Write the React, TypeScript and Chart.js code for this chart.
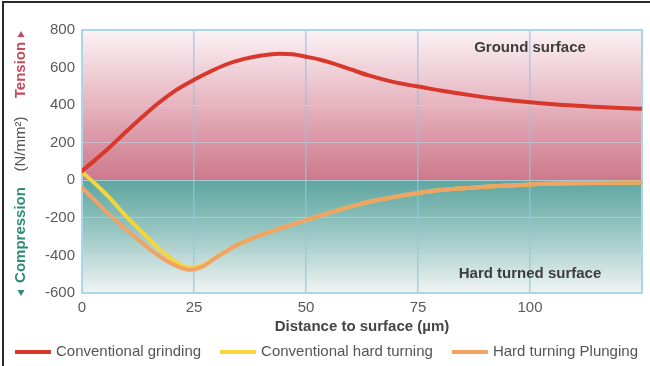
import React, { useEffect, useRef } from 'react';
import { Chart, registerables } from 'chart.js';

Chart.register(...registerables);

// ---- data ----
const GRIND_X = [0, 3, 6, 10, 13.5, 17, 21, 25, 29, 32, 36, 40, 44, 47, 50, 53, 56, 60, 64, 68, 72, 76, 80, 87, 93, 100, 106, 113, 119, 125];
const GRIND_Y = [50, 110, 172, 262, 338, 410, 480, 535, 583, 615, 645, 664, 674, 671, 658, 643, 622, 590, 558, 532, 512, 495, 478, 452, 433, 415, 403, 393, 386, 381];

const TURN_X = [0, 3, 6, 10, 14, 18, 21, 24, 27, 30, 35, 40, 45, 50, 55, 60, 65, 70, 75, 80, 90, 100, 110, 125];
const TURN_Y = [45, -20, -90, -195, -290, -380, -435, -465, -452, -408, -340, -290, -250, -212, -175, -140, -110, -88, -68, -52, -35, -22, -16, -12];

const PLUNGE_X = [0, 3, 6, 10, 14, 18, 21, 24, 27, 30, 35, 40, 45, 50, 55, 60, 65, 70, 75, 80, 90, 100, 110, 125];
const PLUNGE_Y = [-40, -110, -180, -265, -345, -415, -455, -476, -458, -410, -340, -290, -250, -212, -175, -140, -110, -88, -68, -52, -35, -22, -16, -12];

const SERIES_LABELS = ['Conventional grinding', 'Conventional hard turning', 'Hard turning Plunging'];
const SERIES_COLORS = ['#d8372b', '#f4d53e', '#efa364'];

const X_TICKS = [0, 25, 50, 75, 100];
const Y_TICKS = [-600, -400, -200, 0, 200, 400, 600, 800];
const X_MIN = 0, X_MAX = 125, Y_MIN = -600, Y_MAX = 800;

const X_TITLE = 'Distance to surface (µm)';
const Y_TITLE_COMP = 'Compression';
const Y_TITLE_UNIT = '(N/mm²)';
const Y_TITLE_TENS = 'Tension';
const NOTE_TOP = 'Ground surface';
const NOTE_TOP_AT = [100, 705];
const NOTE_BOTTOM = 'Hard turned surface';
const NOTE_BOTTOM_AT = [100, -497];

const FONT = "'Liberation Sans', Arial, sans-serif";

const toPts = (xs: number[], ys: number[]) => xs.map((x, i) => ({ x, y: ys[i] }));

const decorPlugin = {
  id: 'decor',
  beforeDraw(chart: any) {
    const { ctx, chartArea } = chart;
    const { left, right, top, bottom } = chartArea;
    const y0 = chart.scales.y.getPixelForValue(0);
    ctx.save();
    ctx.fillStyle = '#ffffff';
    ctx.fillRect(0, 0, chart.width, chart.height);
    const g1 = ctx.createLinearGradient(0, top, 0, y0);
    g1.addColorStop(0, '#fbf2f4');
    g1.addColorStop(0.3, '#efcdd5');
    g1.addColorStop(0.7, '#dc9aa9');
    g1.addColorStop(1, '#cd798c');
    ctx.fillStyle = g1;
    ctx.fillRect(left, top, right - left, y0 - top);
    const g2 = ctx.createLinearGradient(0, y0, 0, bottom);
    g2.addColorStop(0, '#5ea5a0');
    g2.addColorStop(0.45, '#98c6c2');
    g2.addColorStop(1, '#f0f4f2');
    ctx.fillStyle = g2;
    ctx.fillRect(left, y0, right - left, bottom - y0);
    ctx.restore();
  },
  beforeDatasetsDraw(chart: any) {
    const { ctx, chartArea } = chart;
    const { left, right, top, bottom } = chartArea;
    ctx.save();
    ctx.strokeStyle = '#a9d6ea';
    ctx.lineWidth = 2;
    ctx.strokeRect(left, top, right - left, bottom - top);
    ctx.restore();
  },
  afterDraw(chart: any) {
    const { ctx, chartArea } = chart;
    const { left, right } = chartArea;
    const xs = chart.scales.x, ys = chart.scales.y;
    ctx.save();
    // notes
    ctx.font = `bold 15px ${FONT}`;
    ctx.fillStyle = '#3d3d3d';
    ctx.textAlign = 'center';
    ctx.textBaseline = 'middle';
    ctx.fillText(NOTE_TOP, xs.getPixelForValue(NOTE_TOP_AT[0]), ys.getPixelForValue(NOTE_TOP_AT[1]));
    ctx.fillText(NOTE_BOTTOM, xs.getPixelForValue(NOTE_BOTTOM_AT[0]), ys.getPixelForValue(NOTE_BOTTOM_AT[1]));
    // x title
    ctx.fillStyle = '#444';
    ctx.fillText(X_TITLE, (left + right) / 2, 327);

    // y title (rotated)
    ctx.save();
    ctx.translate(21, 0);
    ctx.rotate(-Math.PI / 2);
    ctx.textBaseline = 'middle';
    ctx.textAlign = 'center';
    ctx.font = `bold 15px ${FONT}`;
    ctx.fillStyle = '#2f8c77';
    ctx.fillText(Y_TITLE_COMP, -235, 0);
    ctx.font = `15px ${FONT}`;
    ctx.fillStyle = '#555';
    ctx.fillText(Y_TITLE_UNIT, -144, 0);
    ctx.font = `bold 15px ${FONT}`;
    ctx.fillStyle = '#c44a5e';
    ctx.fillText(Y_TITLE_TENS, -70, 0);
    ctx.restore();
    // arrows
    ctx.fillStyle = '#c44a5e';
    ctx.beginPath();
    ctx.moveTo(21, 31); ctx.lineTo(24.5, 37); ctx.lineTo(17.5, 37); ctx.closePath(); ctx.fill();
    ctx.fillStyle = '#2f8c77';
    ctx.beginPath();
    ctx.moveTo(21, 296); ctx.lineTo(24.5, 290); ctx.lineTo(17.5, 290); ctx.closePath(); ctx.fill();

    // legend
    ctx.font = `15px ${FONT}`;
    ctx.textAlign = 'left';
    ctx.textBaseline = 'middle';
    let lx = 15;
    const ly = 352;
    SERIES_LABELS.forEach((lab, i) => {
      ctx.strokeStyle = SERIES_COLORS[i];
      ctx.lineWidth = 4;
      ctx.beginPath();
      ctx.moveTo(lx, ly);
      ctx.lineTo(lx + 36, ly);
      ctx.stroke();
      lx += 41;
      ctx.fillStyle = '#555';
      ctx.fillText(lab, lx, ly);
      lx += ctx.measureText(lab).width + 19;
    });

    // frame
    ctx.fillStyle = '#2b2b2b';
    ctx.fillRect(2, 1, 648, 2);
    ctx.fillRect(2, 1, 2, chart.height);
    ctx.restore();
  },
};

export default function App() {
  const ref = useRef<HTMLCanvasElement | null>(null);
  useEffect(() => {
    if (!ref.current) return;
    const chart = new Chart(ref.current, {
      type: 'line',
      data: {
        datasets: [
          { label: SERIES_LABELS[0], data: toPts(GRIND_X, GRIND_Y), borderColor: SERIES_COLORS[0], borderWidth: 4, order: 0 },
          { label: SERIES_LABELS[1], data: toPts(TURN_X, TURN_Y), borderColor: SERIES_COLORS[1], borderWidth: 4, order: 2 },
          { label: SERIES_LABELS[2], data: toPts(PLUNGE_X, PLUNGE_Y), borderColor: SERIES_COLORS[2], borderWidth: 4, order: 1 },
        ],
      },
      options: {
        animation: false,
        responsive: false,
        devicePixelRatio: 1,
        parsing: false,
        elements: {
          point: { radius: 0 },
          line: { cubicInterpolationMode: 'monotone', fill: false, borderCapStyle: 'round' },
        },
        layout: { padding: { left: 0, right: 8, top: 30, bottom: 0 } },
        plugins: { legend: { display: false }, tooltip: { enabled: false }, title: { display: false } },
        scales: {
          x: {
            type: 'linear',
            min: X_MIN,
            max: X_MAX,
            afterBuildTicks: (s: any) => { s.ticks = X_TICKS.map((v) => ({ value: v })); },
            afterFit: (s: any) => { s.height = 73; },
            grid: { color: 'rgba(140,200,228,0.75)', lineWidth: 1.5, drawTicks: false },
            border: { display: false },
            ticks: { padding: 6, color: '#5a5a5a', font: { family: FONT, size: 15 }, maxRotation: 0 },
          },
          y: {
            type: 'linear',
            min: Y_MIN,
            max: Y_MAX,
            afterBuildTicks: (s: any) => { s.ticks = Y_TICKS.map((v) => ({ value: v })); },
            afterFit: (s: any) => { s.width = 82; },
            grid: { color: 'rgba(190,220,238,0.55)', lineWidth: 1, drawTicks: false },
            border: { display: false },
            ticks: { padding: 7, color: '#5a5a5a', font: { family: FONT, size: 15 } },
          },
        },
      },
      plugins: [decorPlugin],
    } as any);
    return () => chart.destroy();
  }, []);
  return (
    <div style={{ position: 'absolute', left: 0, top: 0, width: 650, height: 366 }}>
      <canvas ref={ref} width={650} height={366} style={{ display: 'block' }} />
    </div>
  );
}
